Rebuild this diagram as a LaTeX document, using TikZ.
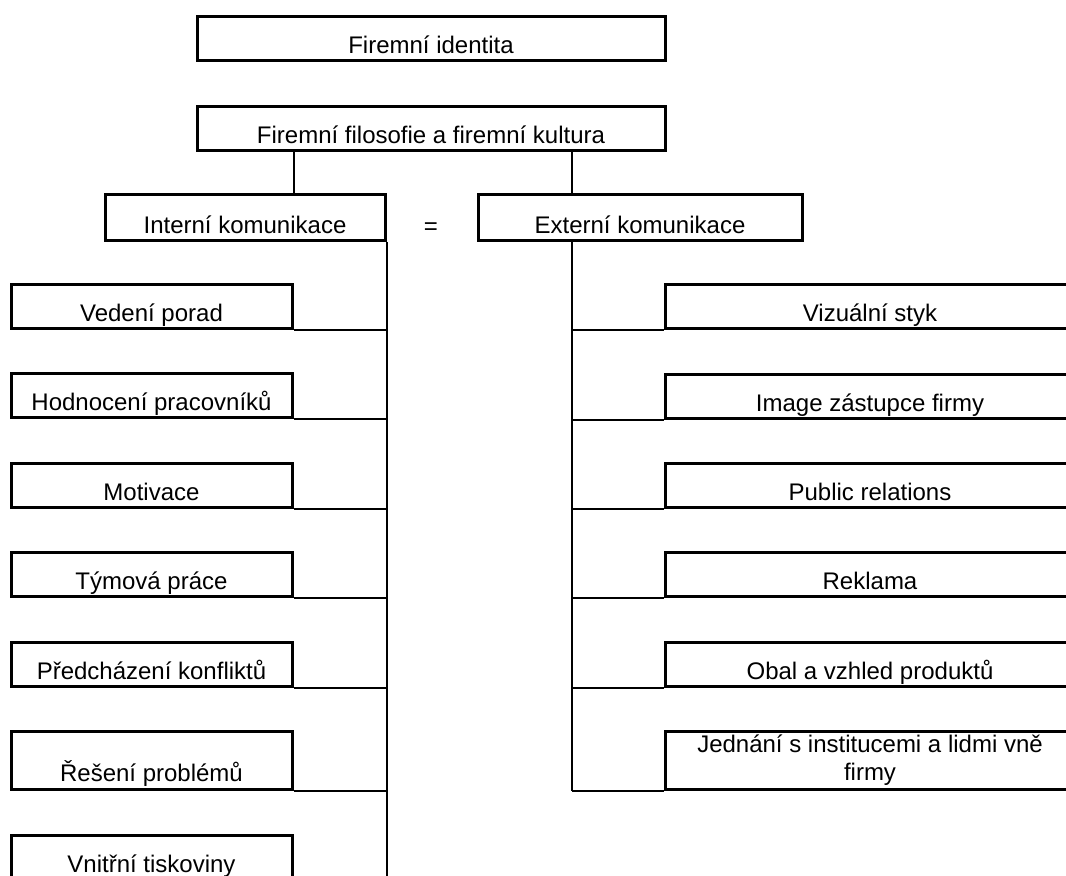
\documentclass[tikz,border=0pt]{standalone}
\usepackage{fontspec}
\setmainfont{Liberation Sans}
\usetikzlibrary{positioning}

\begin{document}
\begin{tikzpicture}[
    x=0.5pt, y=-0.5pt,
    cell/.style={draw, line width=1.5pt, inner sep=0pt, align=center,
      minimum height=22pt, text height=18.5pt, text depth=3.5pt,
      font=\fontsize{12}{13.5}\selectfont},
    headbox/.style={cell, minimum width=234pt},
    lbox/.style={cell, minimum width=140.5pt},
    rbox/.style={cell, minimum width=205pt},
    link/.style={line width=1pt}
  ]
    \useasboundingbox (0,0) rectangle (1066,876);
    \clip (0,0) rectangle (1066,876);

    \node[headbox] (ident) at (431,39) {Firemní identita};
    \node[headbox] (filo) at (431,128.5) {Firemní filosofie a firemní kultura};

    \node[cell, minimum width=140pt, minimum height=23pt, text height=19.5pt]
      (intern) at (245,218) {Interní komunikace};
    \node[cell, minimum width=162pt, minimum height=23pt, text height=19.5pt]
      (extern) at (640,218) {Externí komunikace};
    \node[font=\fontsize{12}{13.5}\selectfont] (eq) at (431,229) {=};

    % interni strana
    \node[lbox] (vedeni) at (151.5,307) {Vedení porad};
    \node[lbox] (hodnoceni) at (151.5,396) {Hodnocení pracovníků};
    \node[lbox] (motivace) at (151.5,485.5) {Motivace};
    \node[lbox] (tym) at (151.5,575) {Týmová práce};
    \node[lbox] (konflikty) at (151.5,665) {Předcházení konfliktů};
    \node[lbox, minimum height=28.5pt, text height=25pt] (problemy) at (151.5,760.5) {Řešení problémů};
    \node[lbox] (tiskoviny) at (151.5,857) {Vnitřní tiskoviny};

    % externi strana
    \node[rbox] (vizual) at (870,306.5) {Vizuální styk};
    \node[rbox] (image) at (870,396.5) {Image zástupce firmy};
    \node[rbox] (pr) at (870,485.5) {Public relations};
    \node[rbox] (reklama) at (870,575) {Reklama};
    \node[rbox] (obal) at (870,665) {Obal a vzhled produktů};
    \node[rbox, minimum height=28.5pt, text height=24pt, text depth=4.5pt] (jednani) at (870,760.5) {
      Jednání s institucemi a lidmi vně\\
      firmy
    };

    \coordinate (rbus) at (572,241);

    \draw[link] (vedeni.east |- filo.south) -- (vedeni.east |- intern.north);
    \draw[link] (filo.south -| rbus) -- (extern.north -| rbus);

    \draw[link] (intern.south east) -- (intern.south east |- tiskoviny.south);
    \draw[link] (vedeni.south east) -- (vedeni.south east -| intern.east);
    \draw[link] (hodnoceni.south east) -- (hodnoceni.south east -| intern.east);
    \draw[link] (motivace.south east) -- (motivace.south east -| intern.east);
    \draw[link] (tym.south east) -- (tym.south east -| intern.east);
    \draw[link] (konflikty.south east) -- (konflikty.south east -| intern.east);
    \draw[link] (problemy.south east) -- (problemy.south east -| intern.east);

    \draw[link] (rbus) -- (rbus |- jednani.south);
    \draw[link] (vizual.south west) -- (vizual.south west -| rbus);
    \draw[link] (image.south west) -- (image.south west -| rbus);
    \draw[link] (pr.south west) -- (pr.south west -| rbus);
    \draw[link] (reklama.south west) -- (reklama.south west -| rbus);
    \draw[link] (obal.south west) -- (obal.south west -| rbus);
    \draw[link] (jednani.south west) -- (jednani.south west -| rbus);
  \end{tikzpicture}
\end{document}
